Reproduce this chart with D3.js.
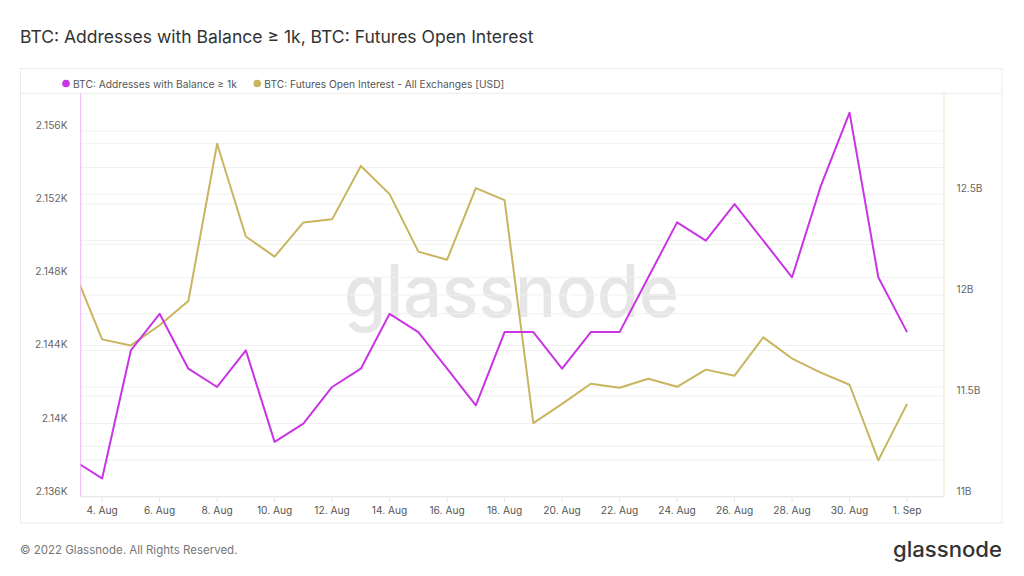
<!DOCTYPE html>
<html>
<head>
<meta charset="utf-8">
<script src="https://cdn.jsdelivr.net/npm/d3@7"></script>
<style>
  html, body { margin: 0; padding: 0; background: #fff; }
  svg { display: block; font-family: Inter, "Noto Sans", sans-serif; }
</style>
</head>
<body>
<svg id="chart" width="1024" height="576"></svg>
<script>
// ---- data ----
const dates = ["2022-08-03","2022-08-04","2022-08-05","2022-08-06","2022-08-07","2022-08-08","2022-08-09","2022-08-10",
  "2022-08-11","2022-08-12","2022-08-13","2022-08-14","2022-08-15","2022-08-16","2022-08-17","2022-08-18",
  "2022-08-19","2022-08-20","2022-08-21","2022-08-22","2022-08-23","2022-08-24","2022-08-25","2022-08-26",
  "2022-08-27","2022-08-28","2022-08-29","2022-08-30","2022-08-31","2022-09-01"];
const addresses = [2138, 2137, 2144, 2146, 2143, 2142, 2144, 2139, 2140, 2142, 2143, 2146, 2145, 2143, 2141, 2145,
  2145, 2143, 2145, 2145, 2148, 2151, 2150, 2152, 2150, 2148, 2153, 2157, 2148, 2145];
const openInterest = [12.13, 11.78, 11.75, 11.85, 11.97, 12.75, 12.29, 12.19, 12.36, 12.375, 12.64, 12.50, 12.215, 12.175, 12.53, 12.47,
  11.365, 11.46, 11.56, 11.54, 11.585, 11.545, 11.63, 11.60, 11.79, 11.685, 11.615, 11.555, 11.18, 11.46];
const leftTicks = [2136, 2140, 2144, 2148, 2152, 2156];
const leftTickLabels = ["2.136K", "2.14K", "2.144K", "2.148K", "2.152K", "2.156K"];
const rightTicks = [11, 11.5, 12, 12.5];
const rightTickLabels = ["11B", "11.5B", "12B", "12.5B"];
const xTickDates = ["2022-08-04","2022-08-06","2022-08-08","2022-08-10","2022-08-12","2022-08-14","2022-08-16","2022-08-18",
  "2022-08-20","2022-08-22","2022-08-24","2022-08-26","2022-08-28","2022-08-30","2022-09-01"];
const seriesNames = ["BTC: Addresses with Balance \u2265 1k", "BTC: Futures Open Interest - All Exchanges [USD]"];
const titleText = "BTC: Addresses with Balance \u2265 1k, BTC: Futures Open Interest";

// ---- layout ----
const svg = d3.select("#chart");
const L = 80.7, R = 944, T = 93.3, B = 496.7;
const pink = "#c935e3", gold = "#c9b55e";
const day = 864e5;
const parse = s => new Date(s + "T00:00:00Z");

// fit a text element's font size so it spans a target width; returns the new size
function fitWidth(sel, target) {
  const node = sel.node();
  const fs = parseFloat(sel.attr("font-size"));
  const w = node.getComputedTextLength();
  const nfs = w > 0 ? fs * target / w : fs;
  sel.attr("font-size", nfs.toFixed(2));
  return nfs;
}

const x = d3.scaleUtc()
  .domain([new Date(parse("2022-08-04").getTime() - 0.745 * day), new Date(parse("2022-09-01").getTime() + 1.285 * day)])
  .range([L, R]);
const yL = d3.scaleLinear().domain([2136, 2158.06]).range([B, T]);
const yR = d3.scaleLinear().domain([11, 13]).range([B, T]);

// box
svg.append("rect").attr("x", 20.5).attr("y", 68.5).attr("width", 981.5).attr("height", 454.5)
  .attr("fill", "#fff").attr("stroke", "#ebebeb");
svg.append("line").attr("x1", 21).attr("x2", 1002).attr("y1", T).attr("y2", T).attr("stroke", "#ececec");

// title
fitWidth(svg.append("text").attr("x", 20).attr("y", 43).attr("font-size", 18).attr("fill", "#333").text(titleText), 514);

// watermark
svg.append("text").attr("x", 344).attr("y", 316.5).attr("font-size", 73).attr("font-weight", 500)
  .attr("fill", "#e6e6e6").attr("textLength", 335).attr("lengthAdjust", "spacingAndGlyphs").text("glassnode");

// gridlines
const gridL = d3.range(2136, 2158, 2);
svg.append("g").selectAll("line").data(gridL).join("line")
  .attr("x1", L).attr("x2", R).attr("y1", d => yL(d)).attr("y2", d => yL(d))
  .attr("stroke", "#f1f1f1");
const gridR = d3.range(11, 13, 0.25);
svg.append("g").selectAll("line").data(gridR).join("line")
  .attr("x1", L).attr("x2", R).attr("y1", d => yR(d)).attr("y2", d => yR(d))
  .attr("stroke", "#f1f1f1");

// axes lines
svg.append("line").attr("x1", L).attr("x2", R).attr("y1", B).attr("y2", B).attr("stroke", "#e6e6e6");
svg.append("line").attr("x1", L).attr("x2", L).attr("y1", T).attr("y2", B).attr("stroke", "#eeb5f6");
svg.append("line").attr("x1", R).attr("x2", R).attr("y1", T).attr("y2", B).attr("stroke", "#efe9cf");

// x ticks
const xt = xTickDates.map(parse);
svg.append("g").selectAll("line").data(xt).join("line")
  .attr("x1", d => x(d)).attr("x2", d => x(d)).attr("y1", B).attr("y2", B + 5).attr("stroke", "#e6e6e6");
svg.append("g").selectAll("text").data(xt).join("text")
  .attr("x", d => x(d)).attr("y", 514).attr("text-anchor", "middle")
  .attr("font-size", 10.2).attr("fill", "#555")
  .text(d => d3.utcFormat("%-d. %b")(d));

// y labels
svg.append("g").selectAll("text").data(leftTicks).join("text")
  .attr("x", 67.5).attr("y", d => yL(d) - 2).attr("text-anchor", "end")
  .attr("font-size", 10.2).attr("fill", "#666").text((d, i) => leftTickLabels[i]);
svg.append("g").selectAll("text").data(rightTicks).join("text")
  .attr("x", 956.5).attr("y", d => yR(d) - 2).attr("text-anchor", "start")
  .attr("font-size", 10.2).attr("fill", "#666").text((d, i) => rightTickLabels[i]);

// clip
svg.append("clipPath").attr("id", "plotclip").append("rect")
  .attr("x", L).attr("y", T - 2).attr("width", R - L).attr("height", B - T + 4);

const pd = dates.map(parse);
const lineL = d3.line().x((d, i) => x(pd[i])).y(d => yL(d));
const lineR = d3.line().x((d, i) => x(pd[i])).y(d => yR(d));
const plot = svg.append("g").attr("clip-path", "url(#plotclip)");
plot.append("path").attr("d", lineR(openInterest)).attr("fill", "none").attr("stroke", gold)
  .attr("stroke-width", 2).attr("stroke-linejoin", "round");
plot.append("path").attr("d", lineL(addresses)).attr("fill", "none").attr("stroke", pink)
  .attr("stroke-width", 2).attr("stroke-linejoin", "round");

// legend
const legX = [66, 257.3], legCol = [pink, gold];
const leg = svg.append("g");
leg.selectAll("circle").data(seriesNames).join("circle")
  .attr("cx", (d, i) => legX[i]).attr("cy", 83.5).attr("r", 3.8).attr("fill", (d, i) => legCol[i]);
const legTexts = leg.selectAll("text").data(seriesNames).join("text")
  .attr("x", (d, i) => legX[i] + 7).attr("y", 87.5).attr("font-size", 11).attr("fill", "#555")
  .text(d => d);
const legFs = fitWidth(d3.select(legTexts.nodes()[1]), 240);
legTexts.attr("font-size", legFs.toFixed(2));

// footer
svg.append("text").attr("x", 20).attr("y", 554).attr("font-size", 11.5).attr("fill", "#777")
  .text("\u00a9 2022 Glassnode. All Rights Reserved.");
svg.append("text").attr("x", 893).attr("y", 556.7).attr("font-size", 21).attr("font-weight", 500)
  .attr("fill", "#333").attr("textLength", 109).attr("lengthAdjust", "spacingAndGlyphs").text("glassnode");
</script>
</body>
</html>
